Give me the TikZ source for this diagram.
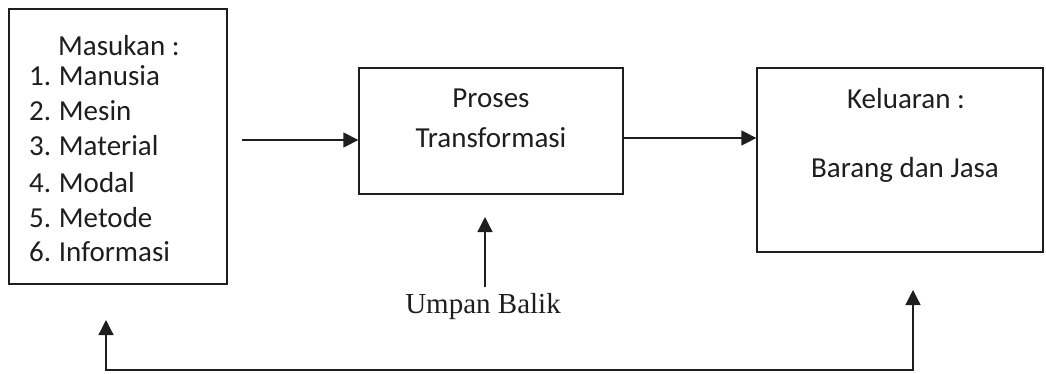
\documentclass[tikz,border=0pt]{standalone}
\usepackage{fontspec}
\setmainfont{Carlito}
\newfontfamily\timesf{Liberation Serif}
\usetikzlibrary{arrows.meta}
\definecolor{ink}{HTML}{1E1E1E}
\begin{document}
\begin{tikzpicture}[x=1pt,y=-1pt,
  box/.style={draw=ink,line width=1.3pt,rectangle,inner sep=0pt},
  txt/.style={text=ink,font=\fontsize{29}{34}\selectfont,inner sep=0pt,anchor=base},
  arr/.style={draw=ink,line width=1.3pt,-{Triangle[length=15pt,width=15pt]}}]
\useasboundingbox (0,0) rectangle (1046,373);
% boxes
\node[box,minimum width=218pt,minimum height=275pt] (in) at (118,146.5) {};
\node[box,minimum width=264pt,minimum height=126pt] (proc) at (491,131) {};
\node[box,minimum width=286pt,minimum height=184pt] (out) at (900,160) {};
% texts
\node[txt,anchor=base west] (t0) at (58,55) {Masukan :};
\node[txt,anchor=base west] (t1) at (29,85) {1.\kern-1pt{} Manusia};
\node[txt,anchor=base west] (t2) at (29,120) {2.\kern-1pt{} Mesin};
\node[txt,anchor=base west] (t3) at (29,155) {3.\kern-1pt{} Material};
\node[txt,anchor=base west] (t4) at (29,192) {4.\kern-1pt{} Modal};
\node[txt,anchor=base west] (t5) at (29,227) {5.\kern-1pt{} Metode};
\node[txt,anchor=base west] (t6) at (29,261) {6.\kern-1pt{} Informasi};
\node[txt] (p1) at (491,107) {Proses};
\node[txt] (p2) at (491,147) {Transformasi};
\node[txt] (o1) at (906,108) {Keluaran :};
\node[txt] (o2) at (905,177) {Barang dan Jasa};
\node[txt,font=\timesf\fontsize{29}{34}\selectfont] (ub) at (483,313) {Umpan Balik};
% connectors
\coordinate (a1) at (242,140);
\draw[arr] (a1) -- (a1 -| proc.west);
\coordinate (a2) at (623,138);
\draw[arr] (a2 -| proc.east) -- (a2 -| out.west);
\coordinate (ubs) at (485,287);
\draw[arr] (ubs) -- (485,217);
\coordinate (fl) at (106,320);
\coordinate (fr) at (913,290);
\draw[draw=ink,line width=1.3pt,{Triangle[length=15pt,width=15pt]}-{Triangle[length=15pt,width=15pt]}]
  (fl) -- (106,370) -- (913,370) -- (fr);
\end{tikzpicture}
\end{document}
